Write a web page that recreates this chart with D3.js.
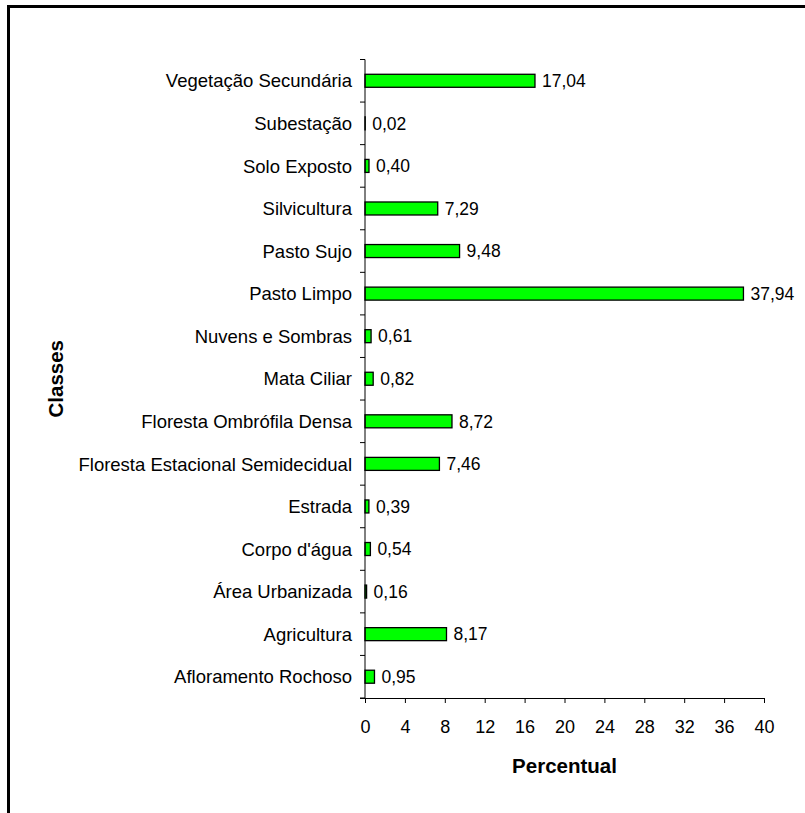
<!DOCTYPE html>
<html>
<head>
<meta charset="utf-8">
<script src="https://cdn.jsdelivr.net/npm/d3@7/dist/d3.min.js"></script>
<style>
  html, body { margin: 0; padding: 0; background: #fff; }
  svg { display: block; font-family: Arial, "Liberation Sans", sans-serif; }
</style>
</head>
<body>
<svg id="chart" width="805" height="813"></svg>
<script>
// Land-cover classes (top to bottom) and their share of the area, in percent
const classes = [
  "Vegetação Secundária",
  "Subestação",
  "Solo Exposto",
  "Silvicultura",
  "Pasto Sujo",
  "Pasto Limpo",
  "Nuvens e Sombras",
  "Mata Ciliar",
  "Floresta Ombrófila Densa",
  "Floresta Estacional Semidecidual",
  "Estrada",
  "Corpo d'água",
  "Área Urbanizada",
  "Agricultura",
  "Afloramento Rochoso"
];
const percentual = [17.04, 0.02, 0.40, 7.29, 9.48, 37.94, 0.61, 0.82, 8.72, 7.46, 0.39, 0.54, 0.16, 8.17, 0.95];
const xTicks = [0, 4, 8, 12, 16, 20, 24, 28, 32, 36, 40];

const svg = d3.select("#chart");
const FONT = "Arial, 'Liberation Sans', sans-serif";

// frame lines along the top and left edge
svg.append("line").attr("x1", 7).attr("x2", 805).attr("y1", 6.5).attr("y2", 6.5)
  .attr("stroke", "#000").attr("stroke-width", 3);
svg.append("line").attr("x1", 8.5).attr("x2", 8.5).attr("y1", 5).attr("y2", 813)
  .attr("stroke", "#000").attr("stroke-width", 3);

const plot = { left: 365, right: 764, top: 59.5, bottom: 698 };

const x = d3.scaleLinear().domain([0, 40]).range([plot.left, plot.right]);
const y = d3.scaleBand().domain(classes).range([plot.top, plot.bottom]);

const fmt = v => d3.format(".2f")(v).replace(".", ",");

// bars
const barH = 13;
svg.append("g").selectAll("rect")
  .data(classes)
  .join("rect")
  .attr("x", x(0))
  .attr("y", (d) => y(d) + y.bandwidth() / 2 - barH / 2)
  .attr("width", (d, i) => x(percentual[i]) - x(0))
  .attr("height", barH)
  .attr("fill", "#00ff00")
  .attr("stroke", "#000")
  .attr("stroke-width", 1.3);

// value labels
svg.append("g").selectAll("text")
  .data(classes)
  .join("text")
  .attr("x", (d, i) => x(percentual[i]) + 7)
  .attr("y", (d) => y(d) + y.bandwidth() / 2)
  .attr("dy", "0.36em")
  .attr("font-size", 17.5)
  .attr("fill", "#000")
  .text((d, i) => fmt(percentual[i]));

// category axis: ticks on band boundaries, labels centred in bands
const yAxis = svg.append("g");
yAxis.append("line")
  .attr("x1", plot.left).attr("x2", plot.left)
  .attr("y1", plot.top).attr("y2", plot.bottom)
  .attr("stroke", "#000").attr("stroke-width", 1);
const boundaries = classes.map(d => y(d)).concat([plot.bottom]);
yAxis.selectAll("line.tick")
  .data(boundaries)
  .join("line")
  .attr("class", "tick")
  .attr("x1", plot.left - 5).attr("x2", plot.left)
  .attr("y1", d => d).attr("y2", d => d)
  .attr("stroke", "#000");
yAxis.selectAll("text")
  .data(classes)
  .join("text")
  .attr("x", plot.left - 13)
  .attr("y", d => y(d) + y.bandwidth() / 2)
  .attr("dy", "0.36em")
  .attr("text-anchor", "end")
  .attr("font-size", 18.5)
  .attr("fill", "#000")
  .text(d => d);

// value axis
const xAxis = d3.axisBottom(x).tickValues(xTicks).tickSize(5).tickPadding(17)
  .tickFormat(d3.format("d"));
const gx = svg.append("g")
  .attr("transform", `translate(0,${plot.bottom})`)
  .call(xAxis);
gx.select(".domain").attr("d", `M${plot.left - 5},0.5H${plot.right}`).attr("stroke", "#000");
gx.selectAll(".tick line").attr("stroke", "#000");
gx.selectAll(".tick text")
  .attr("font-size", 18)
  .attr("font-family", FONT)
  .attr("fill", "#000");

// axis titles
svg.append("text")
  .attr("x", (plot.left + plot.right) / 2)
  .attr("y", 766)
  .attr("dy", "0.36em")
  .attr("text-anchor", "middle")
  .attr("font-size", 20.5)
  .attr("font-weight", "bold")
  .text("Percentual");

svg.append("text")
  .attr("transform", `translate(56,${(plot.top + plot.bottom) / 2}) rotate(-90)`)
  .attr("dy", "0.36em")
  .attr("text-anchor", "middle")
  .attr("font-size", 20.5)
  .attr("font-weight", "bold")
  .text("Classes");
</script>
</body>
</html>
